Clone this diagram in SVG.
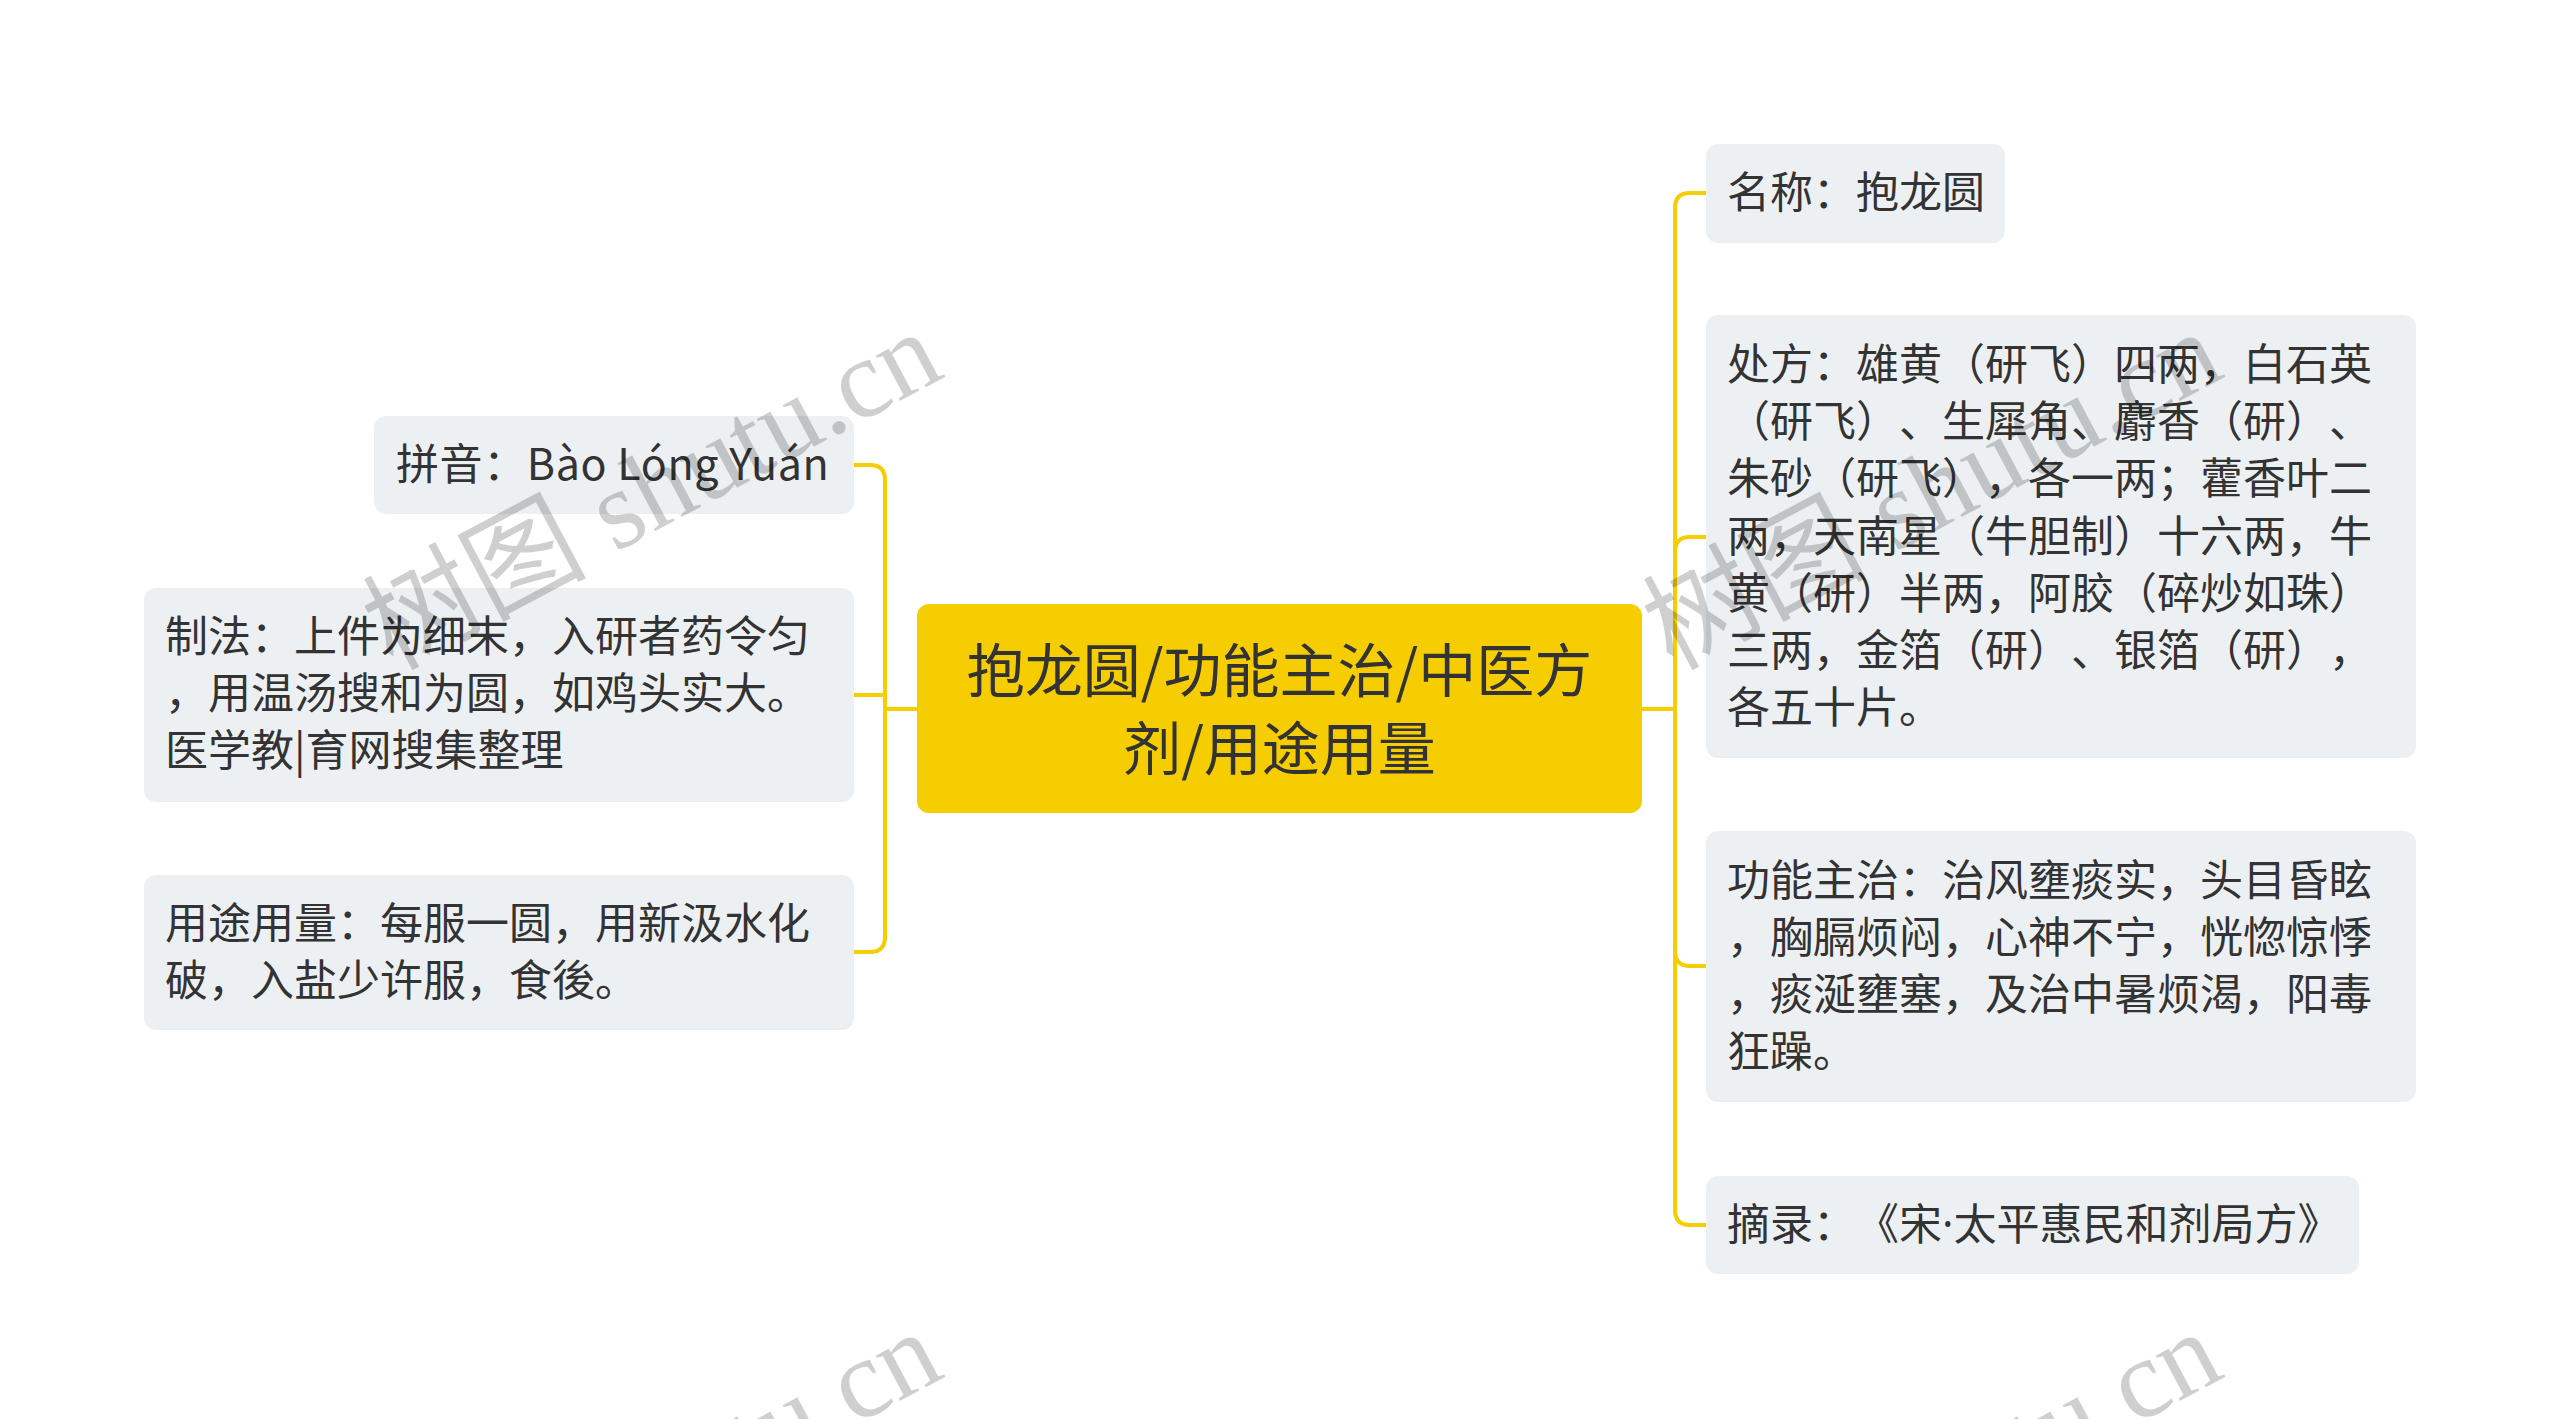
<svg xmlns="http://www.w3.org/2000/svg" width="2560" height="1419" viewBox="0 0 2560 1419">
<defs>
<style>
.bg{fill:#ffffff}
text{text-spacing-trim:space-all}
.root rect{fill:#F6CD00}
.root text{font-family:"Noto Sans CJK SC","Noto Sans",sans-serif;font-size:58px;fill:#333333;text-anchor:middle}
.sub rect{fill:#EDF0F3}
.sub text{font-family:"Noto Sans CJK SC","Noto Sans",sans-serif;font-size:43px;fill:#333333}
.lat{font-family:"Noto Sans",sans-serif}
.conn path{fill:none;stroke:#F6CD00;stroke-width:4;stroke-linecap:round;stroke-linejoin:round}
.wm text{font-family:"Liberation Serif","Noto Sans CJK SC",serif;font-size:112px;fill:#000000;fill-opacity:0.19;text-anchor:end}
</style>
</defs>
<rect class="bg" x="0" y="0" width="2560" height="1419"/>

<g id="connectors" class="conn">
<path d="M917,709 H885"/>
<path d="M885,709 V480 Q885,465 870,465 H854"/>
<path d="M885,709 V695 H854"/>
<path d="M885,709 V937 Q885,952 870,952 H854"/>
<path d="M1642,709 H1675"/>
<path d="M1675,709 V208 Q1675,193 1690,193 H1706"/>
<path d="M1675,709 V552 Q1675,537 1690,537 H1706"/>
<path d="M1675,709 V951 Q1675,966 1690,966 H1706"/>
<path d="M1675,709 V1210 Q1675,1225 1690,1225 H1706"/>
</g>

<g id="root" class="root">
<rect x="917" y="604" width="725" height="209" rx="12" ry="12"/>
<text x="1279.5" y="692">抱龙圆/功能主治/中医方</text>
<text x="1279.5" y="770">剂/用途用量</text>
</g>

<g id="node-pinyin" class="sub">
<rect x="374" y="416" width="480" height="98" rx="12" ry="12"/>
<text x="396" y="480" letter-spacing="0.6">拼音：Bào Lóng Yuán</text>
</g>

<g id="node-zhifa" class="sub">
<rect x="144" y="588" width="710" height="214" rx="12" ry="12"/>
<text x="165" y="652">制法：上件为细末，入研者药令匀</text>
<text x="165" y="709">，用温汤搜和为圆，如鸡头实大。</text>
<text x="165" y="766">医学教|育网搜集整理</text>
</g>

<g id="node-yongtu" class="sub">
<rect x="144" y="875" width="710" height="155" rx="12" ry="12"/>
<text x="165" y="939">用途用量：每服一圆，用新汲水化</text>
<text x="165" y="996">破，入盐少许服，食後。</text>
</g>

<g id="node-mingcheng" class="sub">
<rect x="1706" y="144" width="299" height="99" rx="12" ry="12"/>
<text x="1727" y="208">名称：抱龙圆</text>
</g>

<g id="node-chufang" class="sub">
<rect x="1706" y="315" width="710" height="443" rx="12" ry="12"/>
<text x="1727" y="380">处方：雄黄（研飞）四两，白石英</text>
<text x="1727" y="437">（研飞）、生犀角、麝香（研）、</text>
<text x="1727" y="494">朱砂（研飞），各一两；藿香叶二</text>
<text x="1727" y="552">两，天南星（牛胆制）十六两，牛</text>
<text x="1727" y="609">黄（研）半两，阿胶（碎炒如珠）</text>
<text x="1727" y="666">三两，金箔（研）、银箔（研），</text>
<text x="1727" y="723">各五十片。</text>
</g>

<g id="node-gongneng" class="sub">
<rect x="1706" y="831" width="710" height="271" rx="12" ry="12"/>
<text x="1727" y="896">功能主治：治风壅痰实，头目昏眩</text>
<text x="1727" y="953">，胸膈烦闷，心神不宁，恍惚惊悸</text>
<text x="1727" y="1010">，痰涎壅塞，及治中暑烦渴，阳毒</text>
<text x="1727" y="1067">狂躁。</text>
</g>

<g id="node-zhailu" class="sub">
<rect x="1706" y="1176" width="653" height="98" rx="12" ry="12"/>
<text x="1727" y="1240">摘录：《宋<tspan class="lat">·</tspan>太平惠民和剂局方》</text>
</g>

<g id="watermark" class="wm">
<text transform="translate(947,376) rotate(-28)">树图 shutu.cn</text>
<text transform="translate(2227,376) rotate(-28)">树图 shutu.cn</text>
<text transform="translate(947,1376) rotate(-28)">树图 shutu.cn</text>
<text transform="translate(2227,1376) rotate(-28)">树图 shutu.cn</text>
</g>
</svg>
